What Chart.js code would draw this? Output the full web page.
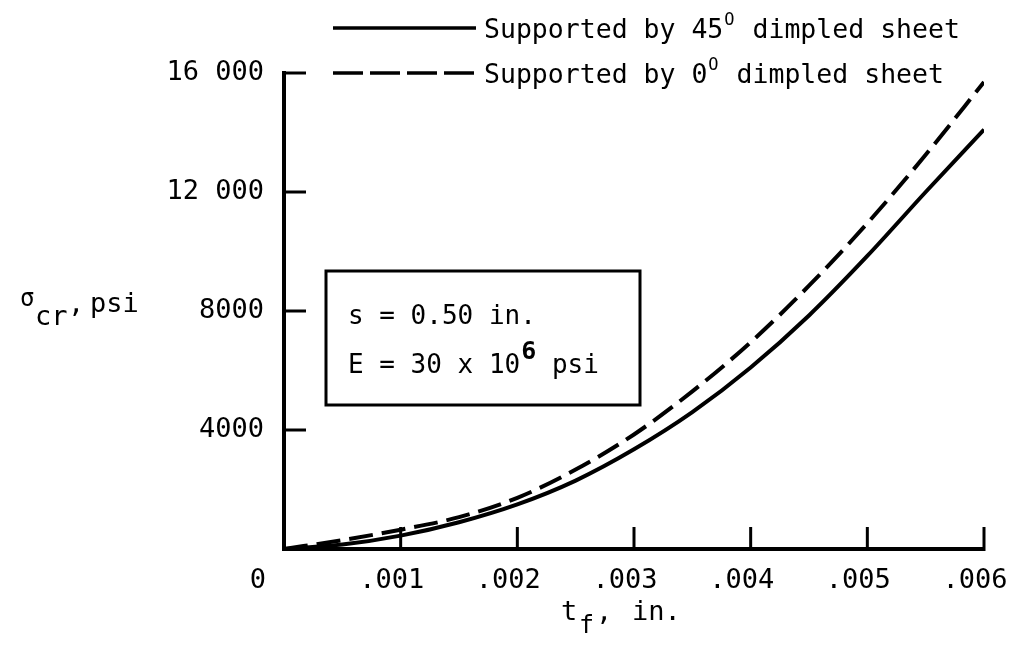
<!DOCTYPE html>
<html>
<head>
<meta charset="utf-8">
<script src="https://cdn.jsdelivr.net/npm/chart.js@4.4.1/dist/chart.umd.min.js"></script>
<style>
  html, body { margin: 0; padding: 0; background: #fff; }
  #wrap { width: 1010px; height: 648px; }
</style>
</head>
<body>
<div id="wrap"><canvas id="c" width="1010" height="648"></canvas></div>
<script>
// thickness t_f, in.
const tf = [0, 0.0005, 0.001, 0.0015, 0.002, 0.0025, 0.003, 0.0035, 0.004, 0.0045, 0.005, 0.0055, 0.006];
// supported by 45 deg dimpled sheet (solid)
const sigma45 = [0, 150, 450, 900, 1500, 2300, 3350, 4600, 6100, 7850, 9850, 12000, 14100];
// supported by 0 deg dimpled sheet (dashed)
const sigma0 = [0, 300, 650, 1070, 1720, 2670, 3850, 5300, 6950, 8850, 10950, 13250, 15700];

const xTicks = [0.001, 0.002, 0.003, 0.004, 0.005, 0.006];
const yTicks = [4000, 8000, 12000, 16000];

const FONT = '"DejaVu Sans Mono", monospace';

function pts(xs, ys) {
    return xs.map((x, i) => ({ x: x, y: ys[i] }));
}

function yLabel(v) {
    if (v === 0) return '';
    if (v >= 10000) return String(v).replace(/(\d+)(\d{3})$/, '$1 $2');
    return String(v);
}

// inward ticks, legend, labels and the note box
const extras = {
    id: 'extras',
    afterDatasetsDraw(chart) {
        const ctx = chart.ctx;
        const xs = chart.scales.x, ys = chart.scales.y;
        const a = chart.chartArea;
        ctx.save();
        ctx.strokeStyle = '#000';
        ctx.fillStyle = '#000';
        ctx.lineWidth = 3;
        ctx.lineCap = 'butt';

        yTicks.forEach(v => {
            const y = ys.getPixelForValue(v);
            ctx.beginPath();
            ctx.moveTo(a.left - 2, y);
            ctx.lineTo(a.left + 22, y);
            ctx.stroke();
        });
        xTicks.forEach(v => {
            const x = xs.getPixelForValue(v);
            ctx.beginPath();
            ctx.moveTo(x, a.bottom + 2);
            ctx.lineTo(x, a.bottom - 22);
            ctx.stroke();
        });

        ctx.textBaseline = 'alphabetic';
        ctx.textAlign = 'left';

        const big = '27px ' + FONT;
        const leg = '26.5px ' + FONT;
        const box = '26px ' + FONT;
        const small = '17px ' + FONT;

        // origin label
        ctx.font = big;
        ctx.textAlign = 'center';
        ctx.fillText('0', 258, 588);
        ctx.textAlign = 'left';

        // legend
        ctx.lineWidth = 3.5;
        ctx.beginPath();
        ctx.moveTo(333, 28);
        ctx.lineTo(476, 28);
        ctx.stroke();
        ctx.setLineDash([30, 7]);
        ctx.beginPath();
        ctx.moveTo(333, 73);
        ctx.lineTo(476, 73);
        ctx.stroke();
        ctx.setLineDash([]);

        function supText(parts, x, y) {
            parts.forEach(p => {
                ctx.font = p.font;
                if (p.at !== undefined) x = p.at;
                x += p.pre || 0;
                ctx.fillText(p.t, x, y + (p.dy || 0));
                x += ctx.measureText(p.t).width + (p.gap || 0);
            });
        }
        supText([{ t: 'Supported by 45', font: leg }, { t: 'O', font: small, dy: -13, gap: 2, pre: 1 }, { t: ' dimpled sheet', font: leg }], 484, 38);
        supText([{ t: 'Supported by 0', font: leg }, { t: 'O', font: small, dy: -13, gap: 2, pre: 1 }, { t: ' dimpled sheet', font: leg }], 484, 83);

        // axis titles
        supText([{ t: 'σ', font: '24px ' + FONT, dy: -6, at: 20 }, { t: 'cr', font: big, dy: 13, at: 35 }, { t: ',', font: big, at: 68 }, { t: 'psi', font: big, at: 90 }], 0, 312);
        supText([{ t: 't', font: big, at: 561 }, { t: 'f', font: '25px ' + FONT, dy: 13, at: 579 }, { t: ',', font: big, at: 596 }, { t: 'in.', font: big, at: 632 }], 0, 620);

        // note box
        ctx.lineWidth = 3;
        ctx.strokeRect(326, 271, 314, 134);
        supText([{ t: 's = 0.50 in.', font: box }], 348, 324);
        supText([{ t: 'E = 30 x 10', font: box }, { t: '6', font: 'bold 25px ' + FONT, dy: -14, pre: 1 }, { t: ' psi', font: box }], 348, 373);

        ctx.restore();
    }
};

new Chart(document.getElementById('c'), {
    type: 'scatter',
    data: {
        datasets: [{
            label: 'Supported by 45° dimpled sheet',
            data: pts(tf, sigma45),
            showLine: true,
            borderColor: '#000',
            borderWidth: 4,
            pointRadius: 0,
            cubicInterpolationMode: 'monotone'
        }, {
            label: 'Supported by 0° dimpled sheet',
            data: pts(tf, sigma0),
            showLine: true,
            borderColor: '#000',
            borderWidth: 4,
            borderDash: [24, 9],
            pointRadius: 0,
            cubicInterpolationMode: 'monotone'
        }]
    },
    options: {
        responsive: false,
        animation: false,
        layout: { padding: { top: 73, right: 26, left: 0, bottom: 0 } },
        plugins: { legend: { display: false }, tooltip: { enabled: false } },
        scales: {
            x: {
                type: 'linear',
                min: 0,
                max: 0.006,
                grid: { display: false, drawTicks: false },
                border: { display: true, color: '#000', width: 4 },
                ticks: {
                    stepSize: 0.001,
                    padding: 16,
                    labelOffset: -9,
                    maxRotation: 0,
                    color: '#000',
                    font: { family: FONT, size: 27 },
                    callback: v => (Math.abs(v) < 1e-9 ? '' : v.toFixed(3).replace(/^0/, ''))
                },
                afterFit: s => { s.height = 99; s.paddingRight = 0; s.paddingLeft = 0; }
            },
            y: {
                type: 'linear',
                min: 0,
                max: 16000,
                grid: { display: false, drawTicks: false },
                border: { display: true, color: '#000', width: 4 },
                ticks: {
                    stepSize: 4000,
                    padding: 20,
                    color: '#000',
                    font: { family: FONT, size: 27 },
                    callback: v => yLabel(v)
                },
                afterFit: s => { s.width = 284; }
            }
        }
    },
    plugins: [extras]
});
</script>
</body>
</html>
